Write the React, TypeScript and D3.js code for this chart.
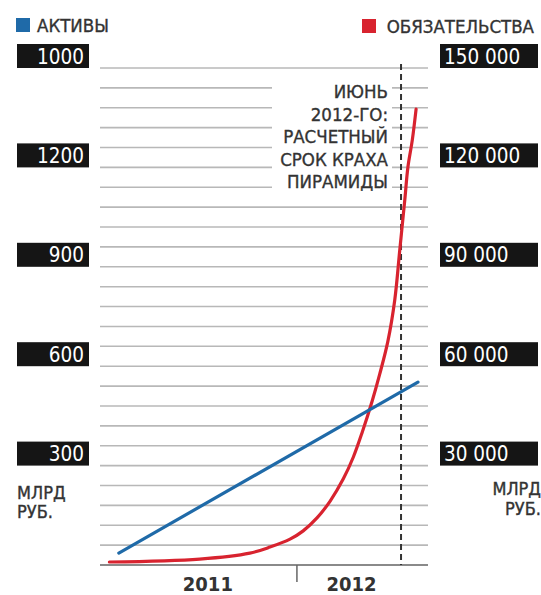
import React from "react";
import * as d3 from "d3";

// ---- data ----
const assetDates = ["2011-03-23", "2012-07-12"];
const assetValues = [36, 552]; // млрд руб. (left axis)

const liabDates = [
  "2011-03-08", "2011-07-30", "2011-10-18", "2011-11-19", "2011-12-21",
  "2012-01-11", "2012-02-02", "2012-02-23", "2012-03-15", "2012-03-31",
  "2012-04-14", "2012-04-30", "2012-05-12", "2012-05-25", "2012-06-05",
  "2012-06-13", "2012-06-21", "2012-06-26", "2012-07-03", "2012-07-09",
];
const liabValues = [
  900, 1800, 3600, 5400, 7800,
  10300, 14200, 19300, 26000, 32600,
  40000, 49500, 57600, 67500, 80000,
  95100, 110200, 120100, 128300, 137600,
]; // млрд руб. (right axis)

const leftTickValues = [300, 600, 900, 1200, 1500];
const leftTickLabels = ["300", "600", "900", "1200", "1000"];
const rightTickValues = [30000, 60000, 90000, 120000, 150000];
const rightTickLabels = ["30 000", "60 000", "90 000", "120 000", "150 000"];

const yearLabels = ["2011", "2012"];
const yearLabelDates = ["2011-08-12", "2012-03-28"];
const yearTickDate = "2012-01-01";
const crashDate = "2012-06-15";
const crashNote = ["ИЮНЬ", "2012-ГО:", "РАСЧЕТНЫЙ", "СРОК КРАХА", "ПИРАМИДЫ"];

const legendAssets = "АКТИВЫ";
const legendLiab = "ОБЯЗАТЕЛЬСТВА";
const unitLines = ["МЛРД", "РУБ."];

const BLUE = "#1f6aa8";
const RED = "#d8232f";
const FONT = "'DejaVu Sans Condensed', 'Liberation Sans Narrow', 'Roboto', sans-serif";
const TXT = "#333";

export default function App() {
  const W = 541;
  const H = 595;
  const x0 = 100, x1 = 428, yTop = 68, yBot = 565;
  const parse = (s: string) => new Date(s + "T00:00:00");

  const x = d3
    .scaleTime()
    .domain([parse("2011-02-21"), parse("2012-07-28")])
    .range([x0, x1]);
  const yL = d3.scaleLinear().domain([0, 1500]).range([yBot, yTop]);
  const yR = d3.scaleLinear().domain([0, 150000]).range([yBot, yTop]);

  const gridVals = d3.range(0, 1501, 60);

  const assets = assetDates.map((d, i) => ({ d: parse(d), v: assetValues[i] }));
  const liab = liabDates.map((d, i) => ({ d: parse(d), v: liabValues[i] }));

  const assetLine = d3
    .line<{ d: Date; v: number }>()
    .x((p) => x(p.d))
    .y((p) => yL(p.v));
  const liabLine = d3
    .line<{ d: Date; v: number }>()
    .x((p) => x(p.d))
    .y((p) => yR(p.v))
    .curve(d3.curveCatmullRom.alpha(0.5));

  const crashX = x(parse(crashDate));
  const tickX = x(parse(yearTickDate));
  const halo = { stroke: TXT, strokeWidth: 0.35 };

  return (
    <svg width={W} height={H} style={{ position: "absolute", left: 0, top: 0 }} fontFamily={FONT}>
      <rect width={W} height={H} fill="#fff" />
      {/* legend */}
      <rect x={16} y={18} width={14} height={14} fill={BLUE} />
      <text x={37} y={32} fontSize={18.5} fill={TXT} {...halo}>{legendAssets}</text>
      <rect x={362} y={19} width={14} height={14} fill={RED} />
      <text x={534} y={33} fontSize={18.5} fill={TXT} textAnchor="end" {...halo}>{legendLiab}</text>

      {/* grid */}
      {gridVals.map((v) => (
        <line
          key={v}
          x1={x0}
          x2={x1}
          y1={yL(v)}
          y2={yL(v)}
          stroke={v === 0 ? "#8a8a8a" : "#b8b8b8"}
          strokeWidth={v === 0 ? 2.2 : 1.6}
        />
      ))}

      {/* annotation background */}
      <rect x={272} y={77} width={120} height={118} fill="#fff" />
      {crashNote.map((t, i) => (
        <text key={t} x={388} y={98 + i * 22.5} fontSize={18.5} fill={TXT} textAnchor="end" {...halo}>
          {t}
        </text>
      ))}

      {/* crash date line */}
      <line
        x1={crashX}
        x2={crashX}
        y1={yTop - 4}
        y2={yBot}
        stroke="#333"
        strokeWidth={2}
        strokeDasharray="6,4"
      />

      {/* x axis tick + labels */}
      <line x1={tickX} x2={tickX} y1={yBot} y2={yBot + 17} stroke="#666" strokeWidth={1.5} />
      {yearLabels.map((t, i) => (
        <text
          key={t}
          x={x(parse(yearLabelDates[i]))}
          y={591}
          fontSize={20}
          fontWeight="bold"
          fill={TXT}
          textAnchor="middle"
        >
          {t}
        </text>
      ))}

      {/* series */}
      <path d={liabLine(liab) || ""} fill="none" stroke={RED} strokeWidth={3.2} strokeLinecap="round" />
      <path d={assetLine(assets) || ""} fill="none" stroke={BLUE} strokeWidth={3.2} strokeLinecap="round" />

      {/* left axis labels */}
      {leftTickValues.map((v, i) => (
        <g key={v}>
          <rect x={17} y={yL(v) - 24} width={72} height={24} fill="#151515" />
          <text x={84} y={yL(v) - 4.5} fontSize={20.5} fill="#fff" textAnchor="end">
            {leftTickLabels[i]}
          </text>
        </g>
      ))}
      {/* right axis labels */}
      {rightTickValues.map((v, i) => (
        <g key={v}>
          <rect x={440} y={yR(v) - 24} width={98} height={24} fill="#151515" />
          <text x={444} y={yR(v) - 4.5} fontSize={20.5} fill="#fff">
            {rightTickLabels[i]}
          </text>
        </g>
      ))}

      {/* units */}
      {unitLines.map((t, i) => (
        <text key={"l" + t} x={17} y={499 + i * 19} fontSize={18} fill={TXT} {...halo}>{t}</text>
      ))}
      {unitLines.map((t, i) => (
        <text key={"r" + t} x={541} y={495 + i * 20} fontSize={18} fill={TXT} textAnchor="end" {...halo}>{t}</text>
      ))}
    </svg>
  );
}
